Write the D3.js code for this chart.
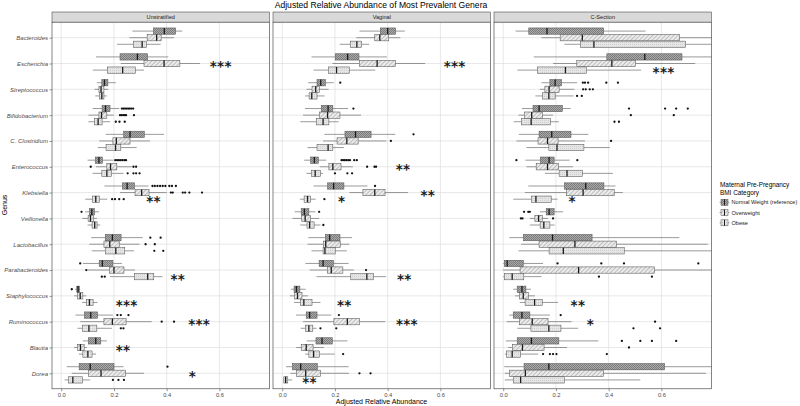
<!DOCTYPE html>
<html><head><meta charset="utf-8">
<script src="https://cdn.jsdelivr.net/npm/d3@7"></script>
<style>body{margin:0;background:#fff}svg{display:block;font-family:"Liberation Sans",Arial,sans-serif}</style>
</head><body><svg id="c" width="800" height="406"></svg>
<script>
const genera = ["Bacteroides","Escherichia","Streptococcus","Bifidobacterium","C. Clostridium","Enterococcus","Klebsiella","Veillonella","Lactobacillus","Parabacteroides","Staphylococcus","Ruminococcus","Blautia","Dorea"];
const facets = ["Unstratified","Vaginal","C-Section"];
const groups = ["Normal Weight (reference)","Overweight","Obese"];
const xTicks = [0, 0.2, 0.4, 0.6];
const xTickLabels = ["0.0","0.2","0.4","0.6"];

// [lower whisker, q1, median, q3, upper whisker] per genus x group
const unstratifiedStats = [
 [0.27,0.35,0.391,0.434,0.459],[0.259,0.326,0.362,0.379,0.428],[0.212,0.274,0.307,0.324,0.377],
 [0.132,0.223,0.289,0.328,0.406],[0.226,0.314,0.39,0.45,0.526],[0.12,0.175,0.233,0.281,0.314],
 [0.135,0.154,0.164,0.177,0.207],[0.126,0.143,0.151,0.162,0.179],[0.129,0.146,0.154,0.162,0.173],
 [0.119,0.155,0.168,0.185,0.22],[0.103,0.143,0.153,0.173,0.199],[0.103,0.127,0.14,0.155,0.185],
 [0.169,0.237,0.261,0.315,0.39],[0.144,0.196,0.209,0.261,0.337],[0.139,0.17,0.206,0.226,0.286],
 [0.1,0.129,0.143,0.156,0.198],[0.132,0.173,0.187,0.211,0.267],[0.119,0.154,0.173,0.191,0.236],
 [0.164,0.232,0.25,0.278,0.331],[0.223,0.28,0.305,0.333,0.4],[0.091,0.119,0.131,0.145,0.175],
 [0.091,0.107,0.116,0.126,0.143],[0.08,0.102,0.111,0.122,0.135],[0.1,0.117,0.127,0.136,0.148],
 [0.114,0.167,0.194,0.227,0.309],[0.107,0.162,0.184,0.22,0.297],[0.116,0.168,0.207,0.241,0.276],
 [0.082,0.144,0.156,0.196,0.23],[0.1,0.183,0.2,0.238,0.28],[0.185,0.278,0.328,0.351,0.384],
 [0.053,0.059,0.064,0.069,0.072],[0.049,0.062,0.072,0.082,0.095],[0.079,0.096,0.107,0.121,0.138],
 [0.054,0.088,0.112,0.138,0.196],[0.072,0.162,0.194,0.246,0.343],[0.062,0.081,0.105,0.135,0.192],
 [0.082,0.103,0.131,0.15,0.173],[0.049,0.062,0.073,0.087,0.097],[0.067,0.082,0.101,0.117,0.132],
 [0.021,0.068,0.11,0.2,0.236],[0.04,0.103,0.151,0.244,0.314],[0.013,0.028,0.044,0.081,0.11]
];
const unstratifiedOutliers = [
 [],[],[], [],[],[], [],[],[],
 [0.23,0.236,0.242,0.248,0.254,0.26,0.266,0.273],[0.223,0.229,0.235,0.241,0.246,0.276],[0.207,0.221,0.241],
 [],[],[],
 [0.205,0.212,0.219,0.226,0.233,0.24,0.246],[0.112,0.274,0.284],[0.252,0.274,0.284,0.297],
 [0.346,0.355,0.365,0.375,0.385,0.395,0.41,0.42,0.435],[0.416,0.423,0.461,0.47,0.486,0.534],[0.193,0.204,0.22,0.237],
 [0.077],[],[],
 [0.338,0.377],[0.32,0.355],[0.353,0.387],
 [0.072],[0.095],[0.154,0.165],
 [0.04],[],[],
 [0.213,0.226,0.255],[0.381,0.428],[0.226,0.236],
 [],[],[],
 [0.403],[],[0.196,0.217,0.238]
];
const vaginalStats = [
 [0.293,0.372,0.4,0.43,0.465],[0.281,0.351,0.37,0.404,0.448],[0.218,0.258,0.283,0.301,0.33],
 [0.111,0.201,0.248,0.291,0.397],[0.19,0.293,0.36,0.429,0.542],[0.119,0.176,0.206,0.255,0.353],
 [0.098,0.132,0.146,0.164,0.195],[0.092,0.113,0.127,0.141,0.176],[0.087,0.102,0.112,0.132,0.161],
 [0.086,0.148,0.174,0.192,0.25],[0.079,0.142,0.172,0.219,0.299],[0.069,0.13,0.155,0.177,0.214],
 [0.16,0.238,0.278,0.337,0.429],[0.155,0.208,0.245,0.288,0.395],[0.096,0.132,0.174,0.192,0.234],
 [0.083,0.108,0.122,0.137,0.167],[0.142,0.177,0.192,0.223,0.268],[0.092,0.111,0.125,0.145,0.155],
 [0.119,0.172,0.195,0.234,0.323],[0.255,0.306,0.351,0.39,0.477],[0.067,0.083,0.096,0.108,0.127],
 [0.047,0.072,0.084,0.101,0.126],[0.039,0.074,0.087,0.107,0.14],[0.068,0.094,0.104,0.121,0.145],
 [0.099,0.164,0.18,0.219,0.265],[0.096,0.157,0.165,0.22,0.255],[0.111,0.155,0.162,0.201,0.245],
 [0.088,0.14,0.155,0.194,0.252],[0.104,0.171,0.186,0.23,0.272],[0.13,0.26,0.321,0.346,0.394],
 [0.033,0.045,0.054,0.067,0.089],[0.029,0.047,0.058,0.075,0.098],[0.045,0.069,0.082,0.113,0.145],
 [0.052,0.091,0.104,0.132,0.186],[0.079,0.196,0.247,0.293,0.391],[0.07,0.088,0.101,0.116,0.13],
 [0.093,0.128,0.151,0.19,0.247],[0.053,0.072,0.091,0.117,0.158],[0.087,0.101,0.119,0.142,0.199],
 [0.014,0.039,0.07,0.133,0.252],[0.031,0.054,0.089,0.145,0.253],[0.004,0.006,0.013,0.021,0.038]
];
const vaginalOutliers = [
 [],[],[], [],[],[],
 [0.22],[],[],
 [0.27],[],[],
 [0.498],[0.412],[],
 [0.225,0.231,0.237,0.243,0.25,0.257,0.273,0.283],[0.322,0.35,0.356],[0.2,0.247,0.265],
 [0.352],[],[0.16],
 [0.14],[],[0.156],
 [],[],[],
 [],[0.318],[],
 [],[],[],
 [0.215],[],[0.145,0.205],
 [],[],[0.231],
 [],[0.293,0.335],[]
];
const cSectionStats = [
 [0.047,0.097,0.166,0.381,0.54],[0.145,0.216,0.3,0.668,0.85],[0.232,0.293,0.344,0.692,0.85],
 [0.116,0.393,0.537,0.678,0.85],[0.189,0.279,0.412,0.501,0.728],[0.054,0.13,0.236,0.315,0.523],
 [0.145,0.177,0.197,0.221,0.28],[0.139,0.158,0.174,0.212,0.27],[0.122,0.149,0.173,0.197,0.267],
 [0.071,0.113,0.136,0.224,0.256],[0.058,0.081,0.108,0.149,0.189],[0.04,0.069,0.106,0.179,0.211],
 [0.059,0.136,0.184,0.257,0.323],[0.05,0.132,0.168,0.208,0.31],[0.088,0.173,0.204,0.306,0.404],
 [0.084,0.141,0.174,0.193,0.252],[0.088,0.125,0.168,0.209,0.265],[0.158,0.212,0.242,0.3,0.416],
 [0.095,0.232,0.313,0.382,0.426],[0.082,0.24,0.303,0.421,0.454],[0.038,0.107,0.124,0.182,0.206],
 [0.139,0.163,0.174,0.193,0.227],[0.101,0.12,0.134,0.148,0.17],[0.101,0.14,0.154,0.177,0.195],
 [0.023,0.077,0.187,0.337,0.668],[0.068,0.136,0.272,0.429,0.776],[0.058,0.174,0.228,0.459,0.85],
 [0,0.004,0.015,0.076,0.151],[0,0.064,0.286,0.573,0.85],[0,0.004,0.034,0.078,0.145],
 [0.038,0.053,0.071,0.086,0.105],[0.045,0.061,0.076,0.095,0.12],[0.063,0.083,0.119,0.148,0.208],
 [0.023,0.038,0.071,0.101,0.177],[0.013,0.061,0.11,0.17,0.259],[0.054,0.105,0.173,0.219,0.284],
 [0.01,0.053,0.107,0.211,0.361],[0.019,0.035,0.073,0.155,0.242],[0.006,0.013,0.034,0.066,0.132],
 [0.004,0.079,0.173,0.612,0.85],[0.006,0.023,0.084,0.381,0.769],[0.006,0.038,0.066,0.232,0.52]
];
const cSectionOutliers = [
 [],[],[], [],[],[],
 [0.302,0.31,0.322,0.391,0.435],[0.303,0.313,0.328,0.34],[0.28,0.298],
 [0.477,0.614,0.656,0.7],[0.484,0.647],[0.422,0.439],
 [],[0.409],[],
 [0.05,0.281],[],[],
 [],[],[],
 [0.079,0.095,0.101],[0.067,0.073,0.189],[],
 [],[],[],
 [0.206,0.372,0.458,0.74],[],[0.363,0.564],
 [],[],[],
 [0.218],[0.576],[0.494,0.595],
 [0.45,0.52,0.564,0.656],[0.477],[0.151,0.177,0.189,0.202,0.393],
 [],[],[]
];
// significance marks
const sigFacet = ["Unstratified","Unstratified","Unstratified","Unstratified","Unstratified","Unstratified","Unstratified","Vaginal","Vaginal","Vaginal","Vaginal","Vaginal","Vaginal","Vaginal","Vaginal","C-Section","C-Section","C-Section","C-Section"];
const sigGenus = ["Escherichia","Klebsiella","Parabacteroides","Staphylococcus","Ruminococcus","Blautia","Dorea","Escherichia","Enterococcus","Klebsiella","Klebsiella","Parabacteroides","Staphylococcus","Ruminococcus","Dorea","Escherichia","Klebsiella","Staphylococcus","Ruminococcus"];
const sigGroup = ["Overweight","Obese","Obese","Obese","Overweight","Overweight","Overweight","Overweight","Overweight","Overweight","Obese","Obese","Obese","Overweight","Obese","Obese","Obese","Obese","Overweight"];
const sigValue = [0.577,0.336,0.428,0.22,0.495,0.22,0.497,0.626,0.444,0.538,0.225,0.449,0.221,0.445,0.089,0.58,0.261,0.269,0.33];
const sigLabel = ["***","**","**","***","***","**","*","***","**","**","*","**","**","***","**","***","*","**","*"];

const statsByFacet = [unstratifiedStats, vaginalStats, cSectionStats];
const outByFacet = [unstratifiedOutliers, vaginalOutliers, cSectionOutliers];

const svg = d3.select("#c");
const defs = svg.append("defs");
// patterns
const p1 = defs.append("pattern").attr("id","patN").attr("patternUnits","userSpaceOnUse").attr("width",2).attr("height",2);
p1.append("rect").attr("width",2).attr("height",2).attr("fill","#a9a9a9");
p1.append("rect").attr("width",1).attr("height",1).attr("fill","#7c7c7c");
p1.append("rect").attr("x",1).attr("y",1).attr("width",1).attr("height",1).attr("fill","#7c7c7c");
const p2 = defs.append("pattern").attr("id","patO").attr("patternUnits","userSpaceOnUse").attr("width",3).attr("height",3).attr("patternTransform","rotate(45)");
p2.append("rect").attr("width",3).attr("height",3).attr("fill","#ececec");
p2.append("line").attr("x1",0).attr("y1",0).attr("x2",0).attr("y2",3).attr("stroke","#8f8f8f").attr("stroke-width",1);
const p3 = defs.append("pattern").attr("id","patB").attr("patternUnits","userSpaceOnUse").attr("width",2).attr("height",2);
p3.append("rect").attr("width",2).attr("height",2).attr("fill","#e6e6e6");
p3.append("rect").attr("width",1).attr("height",1).attr("fill","#cfcfcf");
const fills = ["url(#patN)","url(#patO)","url(#patB)"];

const panelLeft0 = 52, panelW = 217.5, panelStep = 221;
const panelTop = 22.2, panelBottom = 388.8, stripTop = 12;
const y = d3.scalePoint().domain(genera).range([panelTop, panelBottom]).padding(0.6);
const dodge = d3.scalePoint().domain(groups).range([-6.6, 6.6]);
const boxH = 6.3;

// title
svg.append("text").attr("x",381).attr("y",7.8).attr("text-anchor","middle")
  .attr("font-size",8.6).attr("fill","#000").text("Adjusted Relative Abundance of Most Prevalent Genera");

facets.forEach((f, fi) => {
  const x0 = panelLeft0 + fi * panelStep;
  const x = d3.scaleLinear().domain([-0.035, 0.79]).range([x0, x0 + panelW]);
  const g = svg.append("g");
  // strip
  g.append("rect").attr("x",x0).attr("y",stripTop).attr("width",panelW).attr("height",panelTop-stripTop)
    .attr("fill","#d9d9d9").attr("stroke","#333").attr("stroke-width",0.5);
  g.append("text").attr("x",x0+panelW/2).attr("y",(stripTop+panelTop)/2+2).attr("text-anchor","middle")
    .attr("font-size",5.6).attr("fill","#1a1a1a").text(f);
  // panel bg
  g.append("rect").attr("x",x0).attr("y",panelTop).attr("width",panelW).attr("height",panelBottom-panelTop).attr("fill","#fff");
  // grid
  g.selectAll(".vg").data(xTicks).join("line").attr("x1",d=>x(d)).attr("x2",d=>x(d))
    .attr("y1",panelTop).attr("y2",panelBottom).attr("stroke","#dedede").attr("stroke-width",0.7);
  g.selectAll(".hg").data(genera).join("line").attr("x1",x0).attr("x2",x0+panelW)
    .attr("y1",d=>y(d)).attr("y2",d=>y(d)).attr("stroke","#dedede").attr("stroke-width",0.7);
  // clip
  const cid = "clip"+fi;
  defs.append("clipPath").attr("id",cid).append("rect").attr("x",x0).attr("y",panelTop).attr("width",panelW).attr("height",panelBottom-panelTop);
  const pg = g.append("g").attr("clip-path",`url(#${cid})`);
  const stats = statsByFacet[fi], outs = outByFacet[fi];
  const items = [];
  genera.forEach((gn, gi) => groups.forEach((gr, ri) => {
    items.push({gn, gr, ri, s: stats[gi*3+ri], o: outs[gi*3+ri]});
  }));
  items.forEach(it => {
    const cy = y(it.gn) + dodge(it.gr);
    const [lo,q1,md,q3,hi] = it.s;
    pg.append("line").attr("x1",x(lo)).attr("x2",x(q1)).attr("y1",cy).attr("y2",cy).attr("stroke","#6e6e6e").attr("stroke-width",0.7);
    pg.append("line").attr("x1",x(q3)).attr("x2",x(hi)).attr("y1",cy).attr("y2",cy).attr("stroke","#6e6e6e").attr("stroke-width",0.7);
    pg.append("rect").attr("x",x(q1)).attr("y",cy-boxH/2).attr("width",x(q3)-x(q1)).attr("height",boxH)
      .attr("fill",fills[it.ri]).attr("stroke","#555").attr("stroke-width",0.55);
    pg.append("line").attr("x1",x(md)).attr("x2",x(md)).attr("y1",cy-boxH/2).attr("y2",cy+boxH/2).attr("stroke","#1a1a1a").attr("stroke-width",1.3);
    pg.selectAll(null).data(it.o).join("circle").attr("cx",d=>x(d)).attr("cy",cy).attr("r",1.15).attr("fill","#111");
  });
  // significance
  sigFacet.forEach((sf, i) => {
    if (sf !== f) return;
    const cy = y(sigGenus[i]) + dodge(sigGroup[i]);
    const xs = d3.range(sigLabel[i].length).map(k => x(sigValue[i]) + k*7.3);
    g.append("text").attr("x", xs.join(" ")).attr("y", cy+7.2).attr("text-anchor","middle")
      .attr("font-family","DejaVu Sans").attr("font-weight","bold").attr("font-size",13.5).attr("fill","#1a1a1a").text(sigLabel[i]);
  });
  // border
  g.append("rect").attr("x",x0).attr("y",panelTop).attr("width",panelW).attr("height",panelBottom-panelTop)
    .attr("fill","none").attr("stroke","#333").attr("stroke-width",0.6);
  // x axis
  const ax = g.append("g").attr("transform",`translate(0,${panelBottom})`)
    .call(d3.axisBottom(x).tickValues(xTicks).tickFormat((d,i)=>xTickLabels[i]).tickSize(2.5).tickPadding(1.5));
  ax.select(".domain").remove();
  ax.selectAll("line").attr("stroke","#333").attr("stroke-width",0.5);
  ax.selectAll("text").attr("font-size",5.8).attr("fill","#4d4d4d").attr("font-family","Liberation Sans, Arial, sans-serif");
});

// y axis
const ay = svg.append("g").attr("transform",`translate(${panelLeft0},0)`)
  .call(d3.axisLeft(y).tickSize(2.5).tickPadding(1.5));
ay.select(".domain").remove();
ay.selectAll("line").attr("stroke","#333").attr("stroke-width",0.5);
ay.selectAll("text").attr("font-size",6).attr("font-style","italic").attr("fill","#4d4d4d").attr("font-family","Liberation Sans, Arial, sans-serif");

svg.append("text").attr("transform","translate(7,205) rotate(-90)").attr("text-anchor","middle")
  .attr("font-size",7).attr("fill","#000").text("Genus");
svg.append("text").attr("x",381.5).attr("y",404).attr("text-anchor","middle")
  .attr("font-size",7).attr("fill","#000").text("Adjusted Relative Abundance");

// legend
const lg = svg.append("g");
lg.append("text").attr("x",720).attr("y",187).attr("font-size",6.4).attr("fill","#000").text("Maternal Pre-Pregnancy");
lg.append("text").attr("x",720).attr("y",194.8).attr("font-size",6.4).attr("fill","#000").text("BMI Category");
const legY = d3.scalePoint().domain(groups).range([202.3, 222.8]);
groups.forEach((gr, i) => {
  const cy = legY(gr);
  lg.append("line").attr("x1",719.5).attr("x2",729.5).attr("y1",cy).attr("y2",cy).attr("stroke","#6e6e6e").attr("stroke-width",0.6);
  lg.append("rect").attr("x",721).attr("y",cy-3).attr("width",7).attr("height",6).attr("fill",fills[i]).attr("stroke","#555").attr("stroke-width",0.5);
  lg.append("line").attr("x1",724.5).attr("x2",724.5).attr("y1",cy-3).attr("y2",cy+3).attr("stroke","#1a1a1a").attr("stroke-width",1);
  lg.append("text").attr("x",731.5).attr("y",cy+2).attr("font-size",5.6).attr("fill","#1a1a1a").text(gr);
});
</script></body></html>
